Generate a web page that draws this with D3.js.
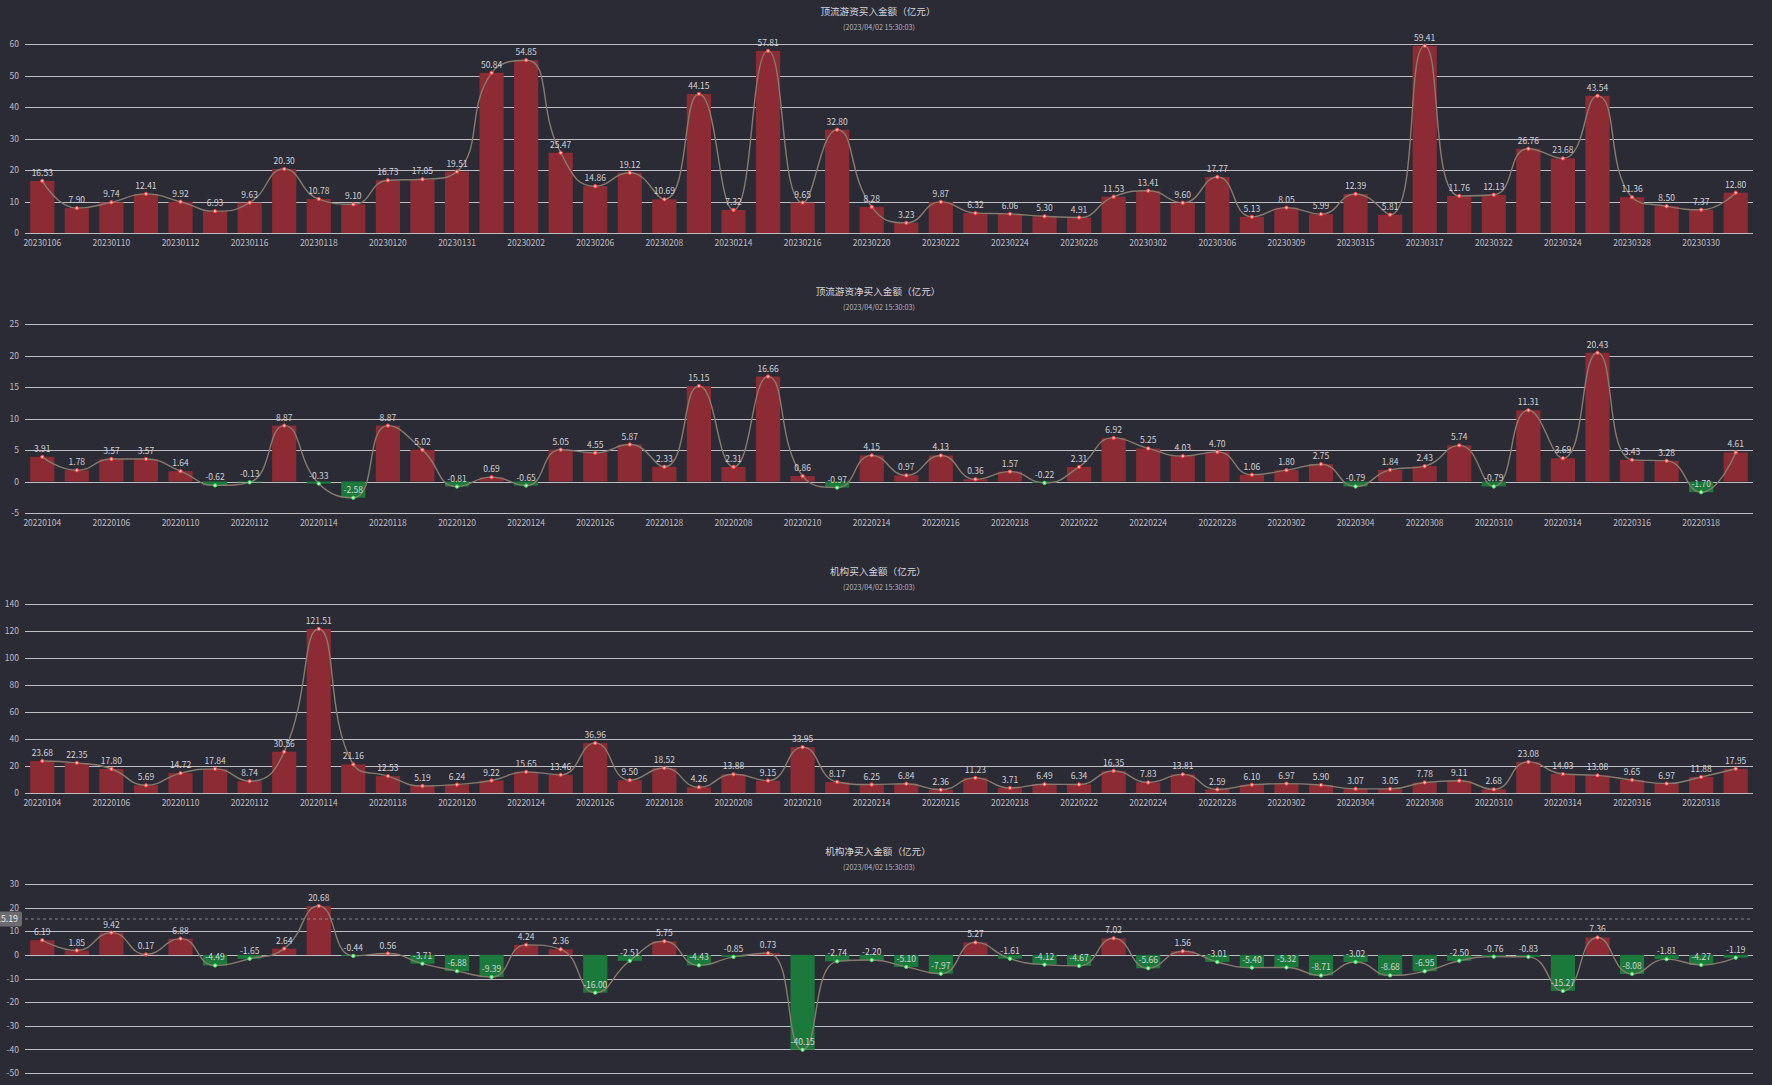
<!DOCTYPE html>
<html>
<head>
<meta charset="utf-8">
<script src="https://cdn.jsdelivr.net/npm/d3@7/dist/d3.min.js"></script>
<style>
  html, body { margin: 0; padding: 0; background: #2b2b36; overflow: hidden; }
  svg { display: block; }
  text { font-family: "Noto Sans CJK SC", "Noto Sans", sans-serif; }
</style>
</head>
<body>
<svg id="chart" width="1772" height="1085"></svg>
<script>
// ---------- DATA ----------
const subtitle = "(2023/04/02 15:30:03)";

const dates2023 = ["20230106","20230109","20230110","20230111","20230112","20230113","20230116","20230117","20230118","20230119",
  "20230120","20230130","20230131","20230201","20230202","20230203","20230206","20230207","20230208","20230210",
  "20230214","20230215","20230216","20230217","20230220","20230221","20230222","20230223","20230224","20230227",
  "20230228","20230301","20230302","20230303","20230306","20230308","20230309","20230314","20230315","20230316",
  "20230317","20230321","20230322","20230323","20230324","20230327","20230328","20230329","20230330","20230331"];

const dates2022 = ["20220104","20220105","20220106","20220107","20220110","20220111","20220112","20220113","20220114","20220117",
  "20220118","20220119","20220120","20220121","20220124","20220125","20220126","20220127","20220128","20220207",
  "20220208","20220209","20220210","20220211","20220214","20220215","20220216","20220217","20220218","20220221",
  "20220222","20220223","20220224","20220225","20220228","20220301","20220302","20220303","20220304","20220307",
  "20220308","20220309","20220310","20220311","20220314","20220315","20220316","20220317","20220318","20220321"];

const hotMoneyBuy = [16.53,7.90,9.74,12.41,9.92,6.93,9.63,20.30,10.78,9.10,
  16.73,17.05,19.51,50.84,54.85,25.47,14.86,19.12,10.69,44.15,
  7.32,57.81,9.65,32.80,8.28,3.23,9.87,6.32,6.06,5.30,
  4.91,11.53,13.41,9.60,17.77,5.13,8.05,5.99,12.39,5.81,
  59.41,11.76,12.13,26.76,23.68,43.54,11.36,8.50,7.37,12.80];

const hotMoneyNet = [3.91,1.78,3.57,3.57,1.64,-0.62,-0.13,8.87,-0.33,-2.58,
  8.87,5.02,-0.81,0.69,-0.65,5.05,4.55,5.87,2.33,15.15,
  2.31,16.66,0.86,-0.97,4.15,0.97,4.13,0.36,1.57,-0.22,
  2.31,6.92,5.25,4.03,4.70,1.06,1.80,2.75,-0.79,1.84,
  2.43,5.74,-0.79,11.31,3.69,20.43,3.43,3.28,-1.70,4.61];

const instBuy = [23.68,22.35,17.80,5.69,14.72,17.84,8.74,30.56,121.51,21.16,
  12.53,5.19,6.24,9.22,15.65,13.46,36.96,9.50,18.52,4.26,
  13.88,9.15,33.95,8.17,6.25,6.84,2.36,11.23,3.71,6.49,
  6.34,16.35,7.83,13.81,2.59,6.10,6.97,5.90,3.07,3.05,
  7.78,9.11,2.68,23.08,14.03,13.08,9.65,6.97,11.88,17.95];

const instNet = [6.19,1.85,9.42,0.17,6.88,-4.49,-1.65,2.64,20.68,-0.44,
  0.56,-3.71,-6.88,-9.39,4.24,2.36,-16.00,-2.51,5.75,-4.43,
  -0.85,0.73,-40.15,-2.74,-2.20,-5.10,-7.97,5.27,-1.61,-4.12,
  -4.67,7.02,-5.66,1.56,-3.01,-5.40,-5.32,-8.71,-3.02,-8.68,
  -6.95,-2.50,-0.76,-0.83,-15.27,7.36,-8.08,-1.81,-4.27,-1.19];

const titles = ["顶流游资买入金额（亿元）", "顶流游资净买入金额（亿元）", "机构买入金额（亿元）", "机构净买入金额（亿元）"];
const yTicks1 = [0,10,20,30,40,50,60];
const yTicks2 = [-5,0,5,10,15,20,25];
const yTicks3 = [0,20,40,60,80,100,120,140];
const yTicks4 = [-50,-40,-30,-20,-10,0,10,20,30];
const pointerValue = 15.19; // axis pointer shown on the 4th chart

const charts = [
  { title: titles[0], cats: dates2023, values: hotMoneyBuy, ticks: yTicks1, showX: true },
  { title: titles[1], cats: dates2022, values: hotMoneyNet, ticks: yTicks2, showX: true },
  { title: titles[2], cats: dates2022, values: instBuy, ticks: yTicks3, showX: true },
  // x labels of the last chart fall below the bottom edge of the reference picture
  { title: titles[3], cats: dates2022, values: instNet, ticks: yTicks4, showX: false, pointer: pointerValue }
];

// ---------- LAYOUT / STYLE ----------
const W = 1772, H = 1085, rowH = 280;
const gridLeft = 25, gridRight = 1753, gridTop = 44, gridBottom = 233;
const C = {
  bg: "#2b2b36", grid: "#bdbdc2", text: "#d2d2d6", axisText: "#bdbdc2",
  up: "#8c2b33", down: "#1b7a3b", line: "#877b6e",
  upDotStroke: "#ff3636", upDotFill: "#ffc2c2", downDotStroke: "#2fdc55", downDotFill: "#c6ffd2"
};
const fmt2 = v => v.toFixed(2);

const svg = d3.select("#chart");
svg.append("rect").attr("width", W).attr("height", H).attr("fill", C.bg);

// ECharts-like smooth line (smooth = 0.5, control points clamped)
function smoothPath(pts, smooth) {
  const p = d3.path();
  let prevX, prevY, cpx0, cpy0;
  for (let i = 0; i < pts.length; i++) {
    const [x, y] = pts[i];
    if (i === 0) { p.moveTo(x, y); cpx0 = x; cpy0 = y; }
    else {
      let cpx1, cpy1, nextCpx0, nextCpy0;
      if (i === pts.length - 1) { cpx1 = x; cpy1 = y; nextCpx0 = x; nextCpy0 = y; }
      else {
        const [nx, ny] = pts[i + 1];
        let vx = nx - prevX, vy = ny - prevY;
        const dx0 = x - prevX, dy0 = y - prevY, dx1 = nx - x, dy1 = ny - y;
        const l0 = Math.sqrt(dx0*dx0 + dy0*dy0), l1 = Math.sqrt(dx1*dx1 + dy1*dy1);
        const r = l1 / (l0 + l1);
        nextCpx0 = x + vx * smooth * r; nextCpy0 = y + vy * smooth * r;
        nextCpx0 = Math.min(nextCpx0, Math.max(nx, x)); nextCpy0 = Math.min(nextCpy0, Math.max(ny, y));
        nextCpx0 = Math.max(nextCpx0, Math.min(nx, x)); nextCpy0 = Math.max(nextCpy0, Math.min(ny, y));
        vx = nextCpx0 - x; vy = nextCpy0 - y;
        cpx1 = x - vx * l0 / l1; cpy1 = y - vy * l0 / l1;
        cpx1 = Math.min(cpx1, Math.max(prevX, x)); cpy1 = Math.min(cpy1, Math.max(prevY, y));
        cpx1 = Math.max(cpx1, Math.min(prevX, x)); cpy1 = Math.max(cpy1, Math.min(prevY, y));
        vx = x - cpx1; vy = y - cpy1;
        nextCpx0 = x + vx * l1 / l0; nextCpy0 = y + vy * l1 / l0;
      }
      p.bezierCurveTo(cpx0, cpy0, cpx1, cpy1, x, y);
      cpx0 = nextCpx0; cpy0 = nextCpy0;
    }
    prevX = x; prevY = y;
  }
  return p.toString();
}

charts.forEach((ch, ci) => {
  const g = svg.append("g").attr("transform", `translate(0,${ci * rowH})`);
  const idx = d3.range(ch.values.length);
  const x = d3.scaleBand().domain(idx).range([gridLeft, gridRight]).paddingInner(0.3).paddingOuter(0.15);
  const y = d3.scaleLinear().domain(d3.extent(ch.ticks)).range([gridBottom, gridTop]);
  const cx = i => x(i) + x.bandwidth() / 2;

  // titles
  g.append("text").attr("x", 878).attr("y", 14.5).attr("text-anchor", "middle")
    .attr("font-size", 9.6).attr("fill", "#d6d6da").text(ch.title);
  g.append("text").attr("x", 879).attr("y", 29.5).attr("text-anchor", "middle")
    .attr("font-size", 7.2).attr("fill", "#b5b5ba").text(subtitle);

  // grid lines + y labels
  const yAxis = d3.axisLeft(y).tickValues(ch.ticks).tickSize(-(gridRight - gridLeft)).tickPadding(6).tickFormat(d => String(d));
  const ya = g.append("g").attr("transform", `translate(${gridLeft},0)`).call(yAxis);
  ya.select(".domain").remove();
  ya.selectAll(".tick line").attr("stroke", C.grid).attr("stroke-width", 1).attr("shape-rendering", "crispEdges");
  ya.selectAll(".tick text").attr("fill", C.axisText).attr("font-size", 8.5)
    .attr("font-family", '"Noto Sans CJK SC", "Noto Sans", sans-serif');

  // x labels (every other category)
  if (ch.showX) {
    const xAxis = d3.axisBottom(x).tickSize(0).tickPadding(7)
      .tickValues(idx.filter(i => i % 2 === 0)).tickFormat(i => ch.cats[i]);
    const xa = g.append("g").attr("transform", `translate(0,${gridBottom})`).call(xAxis);
    xa.select(".domain").remove();
    xa.selectAll(".tick text").attr("fill", C.axisText).attr("font-size", 8.5)
      .attr("font-family", '"Noto Sans CJK SC", "Noto Sans", sans-serif');
  }

  // bars
  g.append("g").selectAll("rect").data(ch.values).join("rect")
    .attr("x", (d, i) => x(i)).attr("width", x.bandwidth())
    .attr("y", d => Math.min(y(d), y(0))).attr("height", d => Math.abs(y(d) - y(0)))
    .attr("fill", d => d >= 0 ? C.up : C.down);

  // axis pointer (dashed) on chart 4
  if (ch.pointer !== undefined) {
    const py = y(ch.pointer);
    g.append("line").attr("x1", gridLeft).attr("x2", gridRight).attr("y1", py).attr("y2", py)
      .attr("stroke", "#8a8a90").attr("stroke-width", 1).attr("stroke-dasharray", "3,3");
    g.append("rect").attr("x", -10).attr("y", py - 7.5).attr("width", 32).attr("height", 15)
      .attr("rx", 2).attr("fill", "#6c6c70");
    g.append("text").attr("x", 18).attr("y", py + 3).attr("text-anchor", "end")
      .attr("font-size", 8.8).attr("fill", "#e8e8e8").text(fmt2(ch.pointer));
  }

  // smooth line
  const pts = ch.values.map((v, i) => [cx(i), y(v)]);
  g.append("path").attr("d", smoothPath(pts, 0.5)).attr("fill", "none")
    .attr("stroke", C.line).attr("stroke-width", 1.4);

  // points
  g.append("g").selectAll("circle").data(ch.values).join("circle")
    .attr("cx", (d, i) => cx(i)).attr("cy", d => y(d)).attr("r", 1.7)
    .attr("fill", d => d >= 0 ? C.upDotFill : C.downDotFill)
    .attr("stroke", d => d >= 0 ? C.upDotStroke : C.downDotStroke).attr("stroke-width", 1);

  // value labels
  g.append("g").selectAll("text").data(ch.values).join("text")
    .attr("x", (d, i) => cx(i)).attr("y", d => y(d) - 5)
    .attr("text-anchor", "middle").attr("font-size", 8.5).attr("fill", C.text)
    .text(d => fmt2(d));
});
</script>
</body>
</html>
